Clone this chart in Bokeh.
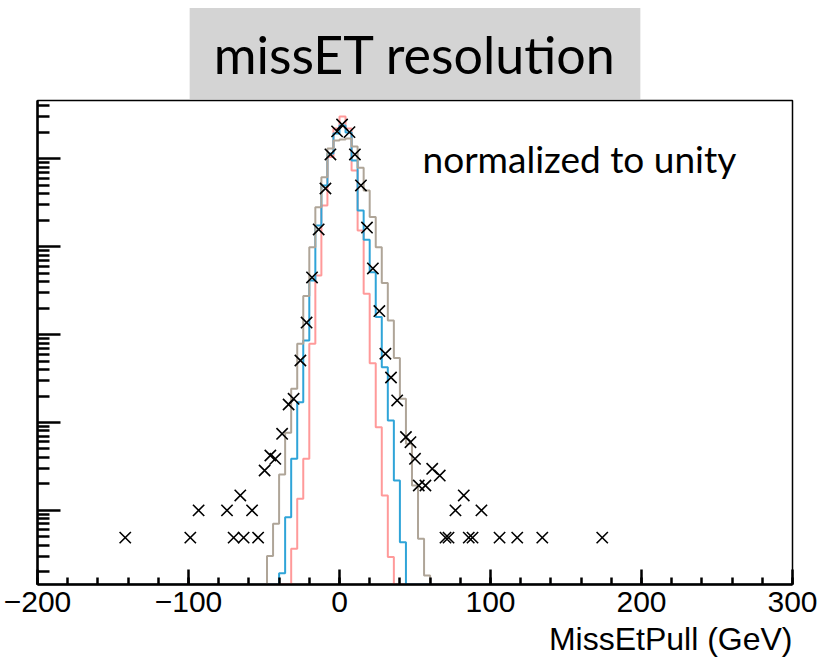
from bokeh.plotting import figure
from bokeh.models import Range1d, FixedTicker, Label, Title
from bokeh.embed import file_html
from bokeh.resources import INLINE

# ---- data -------------------------------------------------------------
# histogram bin edges (GeV), 4 GeV bins
bin_edges = list(range(-52, 68, 4))

# normalized bin contents (sum ~ 1) for the three simulated samples
gray_vals = [0, 3.03e-6, 7.04e-6, 2.56e-5, 7.64e-5, 2.42e-4, 7.85e-4, 2.75e-3,
             9.86e-3, 2.81e-2, 6.18e-2, 0.131, 0.161, 0.166, 0.170, 0.138,
             7.9e-2, 4.36e-2, 2.17e-2, 9.86e-3, 3.85e-3, 1.45e-3, 5.42e-4,
             1.86e-4, 5.73e-5, 1.92e-5, 4.75e-6, 1.82e-6, 0]
blue_vals = [0, 0, 0, 1.93e-6, 8.37e-6, 3.86e-5, 1.70e-4, 8.57e-4,
             4.12e-3, 1.74e-2, 4.97e-2, 0.115, 0.194, 0.239, 0.199, 9.57e-2,
             2.58e-2, 1.2e-2, 5.13e-3, 1.58e-3, 4.26e-4, 1.05e-4, 2.19e-5,
             4.35e-6, 0, 0, 0, 0, 0]
pink_vals = [0, 0, 0, 0, 0, 3.66e-6, 1.36e-5, 3.86e-5,
             7.85e-4, 4.71e-3, 2.94e-2, 0.105, 0.221, 0.303, 0.221, 7.35e-2,
             1.53e-2, 2.91e-3, 4.73e-4, 8.85e-5, 1.48e-5, 2.94e-6, 0,
             0, 0, 0, 0, 0, 0]

# data points (bin centre, normalized content)
data_x = [-141.9, -98.8, -93.3, -74.5, -70.1, -65.7, -63.5, -57.9, -53.9, -49.6,
          -45.8, -42.5, -38.0, -33.7, -30.4, -25.9, -21.8, -18.2, -13.8, -9.3,
          -6.0, -1.6, 1.7, 6.6, 10.2, 14.2, 18.2, 22.1, 26.4, 30.4,
          34.1, 38.2, 44.0, 47.0, 50.0, 52.5, 56.9, 61.4, 66.4, 70.2,
          72.2, 76.8, 82.3, 85.6, 88.1, 94.0, 106.0, 117.7, 134.3, 174.0]
data_y = [4.9e-6, 4.9e-6, 1.0e-5, 1.0e-5, 4.9e-6, 1.48e-5, 4.9e-6, 1.0e-5, 4.9e-6, 2.84e-5,
          4.21e-5, 3.86e-5, 7.43e-5, 1.60e-4, 1.86e-4, 5.07e-4, 1.37e-3, 4.47e-3, 1.57e-2, 4.59e-2,
          0.112, 0.205, 0.245, 0.201, 0.112, 4.97e-2, 1.65e-2, 5.65e-3, 1.85e-3, 6.05e-4,
          3.25e-4, 1.78e-4, 6.84e-5, 5.97e-5, 3.86e-5, 1.92e-5, 1.92e-5, 2.97e-5, 2.49e-5, 4.9e-6,
          4.9e-6, 1.0e-5, 1.48e-5, 4.9e-6, 4.9e-6, 1.0e-5, 4.9e-6, 4.9e-6, 4.9e-6, 4.9e-6]

x_ticks = [-200, -100, 0, 100, 200, 300]

# ---- figure ----------------------------------------------------------
X0, X1 = -200, 300
Y0, Y1 = 1.435e-6, 0.46

p = figure(width=832, height=667, x_range=Range1d(X0, X1), y_range=Range1d(Y0, Y1),
           y_axis_type="log", output_backend="svg", toolbar_location=None,
           min_border_left=37, min_border_right=40, min_border_top=100,
           min_border_bottom=83)
p.background_fill_color = "white"
p.border_fill_color = "white"
p.outline_line_color = "black"
p.outline_line_width = 1.5
p.xgrid.visible = False
p.ygrid.visible = False


def outline(vals):
    """Step outline of a histogram, with empty bins sitting on the frame bottom."""
    xs = [X0] + bin_edges + [X1]
    ys = [0] + list(vals) + [0, 0]
    ys = [v if v > 0 else Y0 for v in ys]
    return xs, ys


for vals, col in ((pink_vals, "#ff9a9a"), (blue_vals, "#2fa4d8"), (gray_vals, "#afa598")):
    xs, ys = outline(vals)
    p.step(xs, ys, mode="after", line_color=col, line_width=2)

p.scatter(data_x, data_y, marker="x", size=16, line_color="black", line_width=1.6)

# ---- axes --------------------------------------------------------------
xa = p.xaxis[0]
xa.ticker = FixedTicker(ticks=x_ticks, minor_ticks=list(range(-200, 301, 20)))
xa.major_tick_in = 15
xa.major_tick_out = 0
xa.minor_tick_in = 7
xa.minor_tick_out = 0
xa.axis_line_width = 2.5
xa.major_tick_line_width = 2.5
xa.minor_tick_line_width = 2.5
xa.major_label_text_font = "Liberation Sans"
xa.major_label_text_font_size = "30px"
xa.major_label_text_color = "black"
xa.major_label_standoff = 7

decades = [1e-5, 1e-4, 1e-3, 1e-2, 1e-1]
minors = [m * d for d in [1e-6] + decades for m in range(2, 10)]
ya = p.yaxis[0]
ya.ticker = FixedTicker(ticks=decades, minor_ticks=minors)
ya.major_tick_in = 23
ya.major_tick_out = 0
ya.minor_tick_in = 12
ya.minor_tick_out = 0
ya.axis_line_width = 2.5
ya.major_tick_line_width = 2.5
ya.minor_tick_line_width = 2.5
ya.major_label_text_font_size = "1px"
ya.major_label_text_color = None

# ---- texts --------------------------------------------------------------
p.add_layout(Title(text="missET resolution", align="center", standoff=3,
                   text_font="Lato", text_font_size="52px", text_font_style="normal",
                   text_color="black", background_fill_color="#d4d4d4",
                   padding=dict(left=24, right=24, top=15, bottom=14)), "above")

p.add_layout(Title(text="MissEtPull (GeV)", align="right", standoff=9,
                   text_font="Liberation Sans", text_font_size="32px",
                   text_font_style="normal", text_color="black"), "below")

p.add_layout(Label(x=385, y=426, x_units="screen", y_units="screen",
                   text="normalized to unity", text_align="left", text_baseline="alphabetic",
                   text_font="Lato", text_font_size="37px", text_color="black"))

open("out.html", "w").write(file_html(p, INLINE))
